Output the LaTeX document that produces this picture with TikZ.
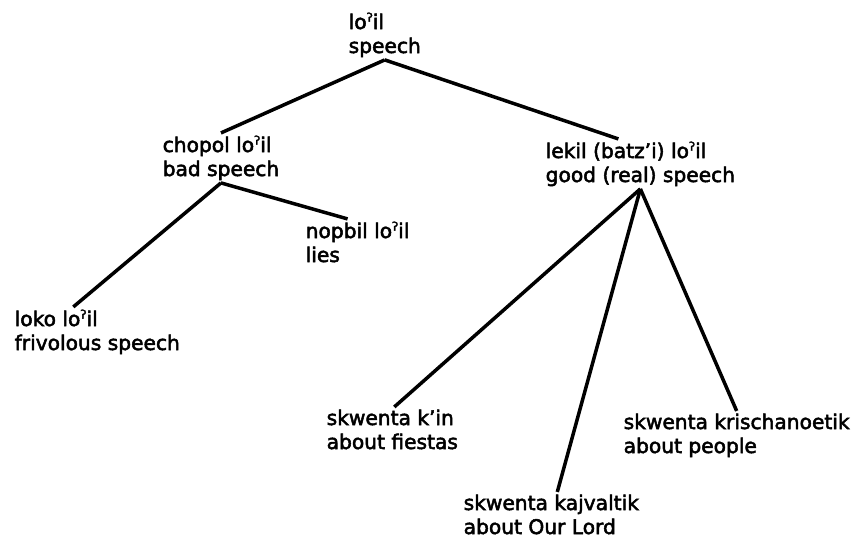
\documentclass[tikz,border=0pt]{standalone}
\usepackage{fontspec}
\setmainfont[FakeBold=2.5]{DejaVu Sans}
% raised glottal stop as printed in the Tzotzil words
\newcommand\gstop{\raisebox{0.36em}{\fontsize{12}{12}\selectfont ʔ}}
\begin{document}
\begin{tikzpicture}[x=1pt,y=-1pt,
  term/.style={align=left, anchor=base west, inner sep=2.5pt,
    font=\fontsize{20.2}{24}\selectfont},
  branch/.style={line width=3.5pt}]
\useasboundingbox (0,0) rectangle (851,539);

% labels: Tzotzil term above its English gloss (anchored at the gloss baseline)
\node[term] (root)  at (346,53)  {lo\gstop il\\speech};
\node[term] (bad)   at (160,176) {chopol lo\gstop il\\bad speech};
\node[term] (good)  at (543,182) {lekil (batz’i) lo\gstop il\\good (real) speech};
\node[term] (lies)  at (303,262) {nopbil lo\gstop il\\lies};
\node[term] (loko)  at (12,350)  {loko lo\gstop il\\frivolous speech};
\node[term] (kin)   at (324,449) {skwenta k’in\\about fiestas};
\node[term] (kaj)   at (461,534) {skwenta kajvaltik\\about Our Lord};
\node[term] (kris)  at (621,453) {skwenta krischanoetik\\about people};

% branches of the taxonomy
\draw[branch] (root.south) -- (bad.north);
\draw[branch] (root.south) -- ([xshift=-22pt]good.north);
\draw[branch] (bad.south) -- ([xshift=-10pt]lies.north);
\draw[branch] (bad.south) -- ([xshift=-24pt]loko.north);
\draw[branch] (good.south) -- ([xshift=2pt]kin.north);
\draw[branch] (good.south) -- ([xshift=6pt]kaj.north);
\draw[branch] (good.south) -- (kris.north);
\end{tikzpicture}
\end{document}
